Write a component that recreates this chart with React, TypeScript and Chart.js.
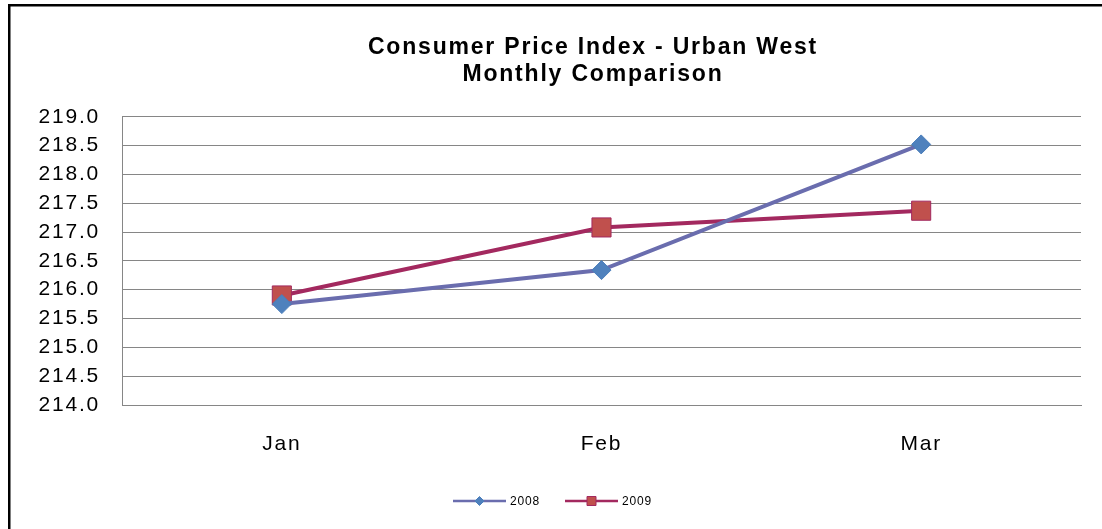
import React, { useEffect, useRef } from "react";
import { Chart, registerables } from "chart.js";

Chart.register(...registerables);

const months = ["Jan", "Feb", "Mar"];
const cpi2008 = [215.75, 216.34, 218.52];
const cpi2009 = [215.9, 217.08, 217.37];
const titleLines = ["Consumer Price Index - Urban West", "Monthly Comparison"];
const yMin = 214.0;
const yMax = 219.0;
const yStep = 0.5;

const FONT = "'Liberation Sans', Arial, sans-serif";
const SPACING = "1.8px";
const line2008 = "#6A6DAE";
const fill2008 = "#4F81BD";
const border2008 = "#4A7EBB";
const line2009 = "#A3295F";
const fill2009 = "#C0504D";
const border2009 = "#A3295F";

const framePlugin = {
  id: "frame",
  beforeUpdate(chart: any) {
    (chart.ctx as any).letterSpacing = SPACING;
  },
  afterLayout(chart: any) {
    // centre the title over the same span as the original (offset to the right of the axis labels)
    if (chart.titleBlock) {
      chart.titleBlock.left = 105;
    }
  },
  beforeDraw(chart: any) {
    const ctx = chart.ctx;
    ctx.save();
    ctx.fillStyle = "#ffffff";
    ctx.fillRect(0, 0, chart.width, chart.height);
    ctx.strokeStyle = "#000000";
    ctx.lineWidth = 2.5;
    ctx.strokeRect(9.25, 5.25, chart.width + 20, chart.height + 20);
    ctx.restore();
    (ctx as any).letterSpacing = SPACING;
  },
};

const legendPlugin = {
  id: "customLegend",
  afterDraw(chart: any) {
    const ctx = chart.ctx;
    ctx.save();
    const y = 501;
    const items = [
      { label: chart.data.datasets[0].label, x: 453, line: line2008, fill: fill2008, border: border2008, shape: "diamond" },
      { label: chart.data.datasets[1].label, x: 565, line: line2009, fill: fill2009, border: border2009, shape: "square" },
    ];
    for (const it of items) {
      ctx.strokeStyle = it.line;
      ctx.lineWidth = 2.5;
      ctx.beginPath();
      ctx.moveTo(it.x, y);
      ctx.lineTo(it.x + 53, y);
      ctx.stroke();
      const cx = it.x + 26.5;
      ctx.fillStyle = it.fill;
      ctx.strokeStyle = it.border;
      ctx.lineWidth = 1;
      ctx.beginPath();
      if (it.shape === "diamond") {
        ctx.moveTo(cx, y - 4.5);
        ctx.lineTo(cx + 4.5, y);
        ctx.lineTo(cx, y + 4.5);
        ctx.lineTo(cx - 4.5, y);
        ctx.closePath();
      } else {
        ctx.rect(cx - 4.5, y - 4.5, 9, 9);
      }
      ctx.fill();
      ctx.stroke();
      ctx.fillStyle = "#000000";
      ctx.font = `12px ${FONT}`;
      (ctx as any).letterSpacing = "0.8px";
      ctx.textBaseline = "middle";
      ctx.textAlign = "left";
      ctx.fillText(it.label, it.x + 57, y + 1);
    }
    ctx.restore();
  },
};

export default function App() {
  const ref = useRef<HTMLCanvasElement | null>(null);
  useEffect(() => {
    document.body.style.margin = "0";
    const canvas = ref.current!;
    const chart = new Chart(canvas, {
      type: "line",
      data: {
        labels: months,
        datasets: [
          {
            label: "2008",
            data: cpi2008,
            borderColor: line2008,
            borderWidth: 4,
            pointStyle: "rectRot",
            pointRadius: 9.5,
            pointHoverRadius: 9.5,
            pointBackgroundColor: fill2008,
            pointBorderColor: border2008,
            pointBorderWidth: 1,
            tension: 0,
          },
          {
            label: "2009",
            data: cpi2009,
            borderColor: line2009,
            borderWidth: 4,
            pointStyle: "rect",
            pointRadius: 13.5,
            pointHoverRadius: 13.5,
            pointBackgroundColor: fill2009,
            pointBorderColor: border2009,
            pointBorderWidth: 1,
            tension: 0,
          },
        ],
      },
      options: {
        animation: false,
        responsive: false,
        layout: { padding: { left: 0, right: 21, top: 0, bottom: 64 } },
        plugins: {
          legend: { display: false },
          tooltip: { enabled: false },
          title: {
            display: true,
            text: titleLines,
            color: "#000000",
            font: { family: FONT, size: 23, weight: "bold", lineHeight: 1.19 },
            padding: { top: 34, bottom: 28 },
          },
        },
        scales: {
          x: {
            offset: true,
            grid: { display: false, drawTicks: false },
            border: { display: true, color: "#868686", width: 1 },
            ticks: {
              color: "#000000",
              font: { family: FONT, size: 21 },
              padding: 27,
            },
            afterFit(scale: any) {
              scale.height = 60;
            },
          },
          y: {
            min: yMin,
            max: yMax,
            grid: { color: "#868686", lineWidth: 1, drawTicks: false },
            border: { display: true, color: "#868686", width: 1 },
            ticks: {
              stepSize: yStep,
              color: "#000000",
              font: { family: FONT, size: 21 },
              padding: 22,
              callback: (v: any) => Number(v).toFixed(1),
            },
            afterFit(scale: any) {
              scale.width = 122;
            },
          },
        },
      },
      plugins: [framePlugin, legendPlugin],
    });
    return () => chart.destroy();
  }, []);
  return <canvas ref={ref} width={1102} height={529} style={{ display: "block" }} />;
}
